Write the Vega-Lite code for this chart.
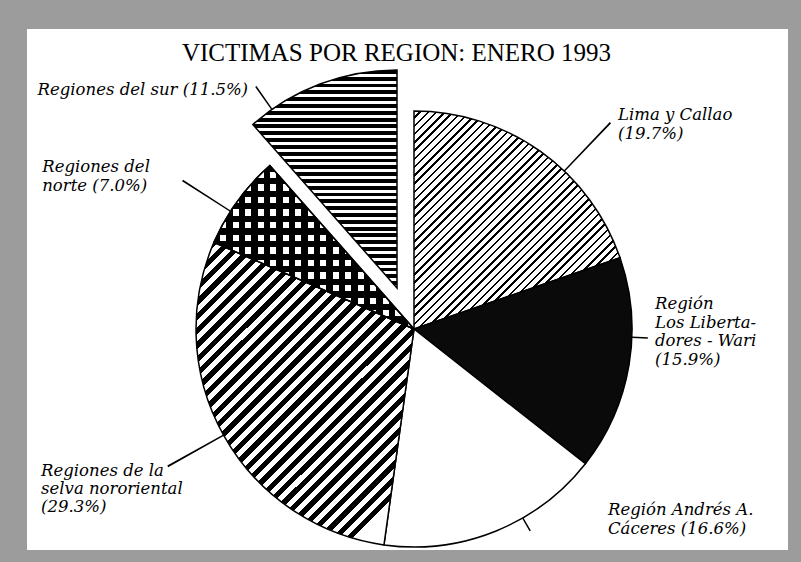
{
"$schema":"https://vega.github.io/schema/vega-lite/v6.json",
"width":801,"height":562,
"autosize":{"type":"fit","contains":"padding"},
"padding":{"left":27,"top":29,"right":13,"bottom":12},
"background":"#9c9c9c",
"view":{"fill":"white","stroke":null},
"config":{"view":{"fill":"white","stroke":null}},
"title":{"text":"VICTIMAS POR REGION: ENERO 1993","font":"Liberation Serif","fontSize":25,"fontWeight":"normal","color":"black","anchor":"middle","frame":"group","offset":-37,"dx":-11},
"data":{"values":[
{"region":"Lima y Callao","label":"Lima y Callao\n(19.7%)","pct":19.7,"order":1},
{"region":"Región Los Libertadores - Wari","label":"Región\nLos Liberta-\ndores - Wari\n(15.9%)","pct":15.9,"order":2},
{"region":"Región Andrés A. Cáceres","label":"Región Andrés A.\nCáceres (16.6%)","pct":16.6,"order":3},
{"region":"Regiones de la selva nororiental","label":"Regiones de la\nselva nororiental\n(29.3%)","pct":29.3,"order":4},
{"region":"Regiones del norte","label":"Regiones del\nnorte (7.0%)","pct":7.0,"order":5},
{"region":"Regiones del sur","label":"Regiones del sur (11.5%)","pct":11.5,"order":6}
]},
"transform":[
{"stack":"pct","groupby":[],"sort":[{"field":"order","order":"ascending"}],"as":["p0","p1"]},
{"calculate":"(datum.p0+datum.p1)/2","as":"mid"}
],
"layer":[
{"transform":[{"filter":"datum.order==1"}],
"mark":{"type":"arc","outerRadius":218,"innerRadius":0,"xOffset":6.5,"yOffset":39.5,"stroke":"black","strokeWidth":1.5,
"fill":{"gradient":"linear","x1":0,"y1":0,"x2":0.945,"y2":1,"stops":[
{"offset":0,"color":"#fff"},{"offset":0.014,"color":"#fff"},{"offset":0.014,"color":"#000"},{"offset":0.02,"color":"#000"},
{"offset":0.02,"color":"#fff"},{"offset":0.034,"color":"#fff"},{"offset":0.034,"color":"#000"},{"offset":0.04,"color":"#000"},
{"offset":0.04,"color":"#fff"},{"offset":0.054,"color":"#fff"},{"offset":0.054,"color":"#000"},{"offset":0.06,"color":"#000"},
{"offset":0.06,"color":"#fff"},{"offset":0.074,"color":"#fff"},{"offset":0.074,"color":"#000"},{"offset":0.08,"color":"#000"},
{"offset":0.08,"color":"#fff"},{"offset":0.094,"color":"#fff"},{"offset":0.094,"color":"#000"},{"offset":0.1,"color":"#000"},
{"offset":0.1,"color":"#fff"},{"offset":0.114,"color":"#fff"},{"offset":0.114,"color":"#000"},{"offset":0.12,"color":"#000"},
{"offset":0.12,"color":"#fff"},{"offset":0.134,"color":"#fff"},{"offset":0.134,"color":"#000"},{"offset":0.14,"color":"#000"},
{"offset":0.14,"color":"#fff"},{"offset":0.154,"color":"#fff"},{"offset":0.154,"color":"#000"},{"offset":0.16,"color":"#000"},
{"offset":0.16,"color":"#fff"},{"offset":0.174,"color":"#fff"},{"offset":0.174,"color":"#000"},{"offset":0.18,"color":"#000"},
{"offset":0.18,"color":"#fff"},{"offset":0.194,"color":"#fff"},{"offset":0.194,"color":"#000"},{"offset":0.2,"color":"#000"},
{"offset":0.2,"color":"#fff"},{"offset":0.214,"color":"#fff"},{"offset":0.214,"color":"#000"},{"offset":0.22,"color":"#000"},
{"offset":0.22,"color":"#fff"},{"offset":0.234,"color":"#fff"},{"offset":0.234,"color":"#000"},{"offset":0.24,"color":"#000"},
{"offset":0.24,"color":"#fff"},{"offset":0.254,"color":"#fff"},{"offset":0.254,"color":"#000"},{"offset":0.26,"color":"#000"},
{"offset":0.26,"color":"#fff"},{"offset":0.274,"color":"#fff"},{"offset":0.274,"color":"#000"},{"offset":0.28,"color":"#000"},
{"offset":0.28,"color":"#fff"},{"offset":0.294,"color":"#fff"},{"offset":0.294,"color":"#000"},{"offset":0.3,"color":"#000"},
{"offset":0.3,"color":"#fff"},{"offset":0.314,"color":"#fff"},{"offset":0.314,"color":"#000"},{"offset":0.32,"color":"#000"},
{"offset":0.32,"color":"#fff"},{"offset":0.334,"color":"#fff"},{"offset":0.334,"color":"#000"},{"offset":0.34,"color":"#000"},
{"offset":0.34,"color":"#fff"},{"offset":0.354,"color":"#fff"},{"offset":0.354,"color":"#000"},{"offset":0.36,"color":"#000"},
{"offset":0.36,"color":"#fff"},{"offset":0.374,"color":"#fff"},{"offset":0.374,"color":"#000"},{"offset":0.38,"color":"#000"},
{"offset":0.38,"color":"#fff"},{"offset":0.394,"color":"#fff"},{"offset":0.394,"color":"#000"},{"offset":0.4,"color":"#000"},
{"offset":0.4,"color":"#fff"},{"offset":0.414,"color":"#fff"},{"offset":0.414,"color":"#000"},{"offset":0.42,"color":"#000"},
{"offset":0.42,"color":"#fff"},{"offset":0.434,"color":"#fff"},{"offset":0.434,"color":"#000"},{"offset":0.44,"color":"#000"},
{"offset":0.44,"color":"#fff"},{"offset":0.454,"color":"#fff"},{"offset":0.454,"color":"#000"},{"offset":0.46,"color":"#000"},
{"offset":0.46,"color":"#fff"},{"offset":0.474,"color":"#fff"},{"offset":0.474,"color":"#000"},{"offset":0.48,"color":"#000"},
{"offset":0.48,"color":"#fff"},{"offset":0.494,"color":"#fff"},{"offset":0.494,"color":"#000"},{"offset":0.5,"color":"#000"},
{"offset":0.5,"color":"#fff"},{"offset":0.514,"color":"#fff"},{"offset":0.514,"color":"#000"},{"offset":0.52,"color":"#000"},
{"offset":0.52,"color":"#fff"},{"offset":0.534,"color":"#fff"},{"offset":0.534,"color":"#000"},{"offset":0.54,"color":"#000"},
{"offset":0.54,"color":"#fff"},{"offset":0.554,"color":"#fff"},{"offset":0.554,"color":"#000"},{"offset":0.56,"color":"#000"},
{"offset":0.56,"color":"#fff"},{"offset":0.574,"color":"#fff"},{"offset":0.574,"color":"#000"},{"offset":0.58,"color":"#000"},
{"offset":0.58,"color":"#fff"},{"offset":0.594,"color":"#fff"},{"offset":0.594,"color":"#000"},{"offset":0.6,"color":"#000"},
{"offset":0.6,"color":"#fff"},{"offset":0.614,"color":"#fff"},{"offset":0.614,"color":"#000"},{"offset":0.62,"color":"#000"},
{"offset":0.62,"color":"#fff"},{"offset":0.634,"color":"#fff"},{"offset":0.634,"color":"#000"},{"offset":0.64,"color":"#000"},
{"offset":0.64,"color":"#fff"},{"offset":0.654,"color":"#fff"},{"offset":0.654,"color":"#000"},{"offset":0.66,"color":"#000"},
{"offset":0.66,"color":"#fff"},{"offset":0.674,"color":"#fff"},{"offset":0.674,"color":"#000"},{"offset":0.68,"color":"#000"},
{"offset":0.68,"color":"#fff"},{"offset":0.694,"color":"#fff"},{"offset":0.694,"color":"#000"},{"offset":0.7,"color":"#000"},
{"offset":0.7,"color":"#fff"},{"offset":0.714,"color":"#fff"},{"offset":0.714,"color":"#000"},{"offset":0.72,"color":"#000"},
{"offset":0.72,"color":"#fff"},{"offset":0.734,"color":"#fff"},{"offset":0.734,"color":"#000"},{"offset":0.74,"color":"#000"},
{"offset":0.74,"color":"#fff"},{"offset":0.754,"color":"#fff"},{"offset":0.754,"color":"#000"},{"offset":0.76,"color":"#000"},
{"offset":0.76,"color":"#fff"},{"offset":0.774,"color":"#fff"},{"offset":0.774,"color":"#000"},{"offset":0.78,"color":"#000"},
{"offset":0.78,"color":"#fff"},{"offset":0.794,"color":"#fff"},{"offset":0.794,"color":"#000"},{"offset":0.8,"color":"#000"},
{"offset":0.8,"color":"#fff"},{"offset":0.814,"color":"#fff"},{"offset":0.814,"color":"#000"},{"offset":0.82,"color":"#000"},
{"offset":0.82,"color":"#fff"},{"offset":0.834,"color":"#fff"},{"offset":0.834,"color":"#000"},{"offset":0.84,"color":"#000"},
{"offset":0.84,"color":"#fff"},{"offset":0.854,"color":"#fff"},{"offset":0.854,"color":"#000"},{"offset":0.86,"color":"#000"},
{"offset":0.86,"color":"#fff"},{"offset":0.874,"color":"#fff"},{"offset":0.874,"color":"#000"},{"offset":0.88,"color":"#000"},
{"offset":0.88,"color":"#fff"},{"offset":0.894,"color":"#fff"},{"offset":0.894,"color":"#000"},{"offset":0.9,"color":"#000"},
{"offset":0.9,"color":"#fff"},{"offset":0.914,"color":"#fff"},{"offset":0.914,"color":"#000"},{"offset":0.92,"color":"#000"},
{"offset":0.92,"color":"#fff"},{"offset":0.934,"color":"#fff"},{"offset":0.934,"color":"#000"},{"offset":0.94,"color":"#000"},
{"offset":0.94,"color":"#fff"},{"offset":0.954,"color":"#fff"},{"offset":0.954,"color":"#000"},{"offset":0.96,"color":"#000"},
{"offset":0.96,"color":"#fff"},{"offset":0.974,"color":"#fff"},{"offset":0.974,"color":"#000"},{"offset":0.98,"color":"#000"},
{"offset":0.98,"color":"#fff"},{"offset":0.994,"color":"#fff"},{"offset":0.994,"color":"#000"},{"offset":1,"color":"#000"}
]}},
"encoding":{"theta":{"field":"p0","type":"quantitative","scale":{"domain":[0,100]}},"theta2":{"field":"p1"}}},
{"transform":[{"filter":"datum.order==2"}],
"mark":{"type":"arc","outerRadius":218,"innerRadius":0,"xOffset":6.5,"yOffset":39.5,"stroke":"black","strokeWidth":1.5,"fill":"#0a0a0a"},
"encoding":{"theta":{"field":"p0","type":"quantitative","scale":{"domain":[0,100]}},"theta2":{"field":"p1"}}},
{"transform":[{"filter":"datum.order==3"}],
"mark":{"type":"arc","outerRadius":218,"innerRadius":0,"xOffset":6.5,"yOffset":39.5,"stroke":"black","strokeWidth":1.5,"fill":"#ffffff"},
"encoding":{"theta":{"field":"p0","type":"quantitative","scale":{"domain":[0,100]}},"theta2":{"field":"p1"}}},
{"transform":[{"filter":"datum.order==4"}],
"mark":{"type":"arc","outerRadius":218,"innerRadius":0,"xOffset":6.5,"yOffset":39.5,"stroke":"black","strokeWidth":1.5,
"fill":{"gradient":"linear","x1":0,"y1":0,"x2":0.72,"y2":1,"stops":[
{"offset":0,"color":"#000"},{"offset":0.016,"color":"#000"},{"offset":0.016,"color":"#fff"},{"offset":0.03125,"color":"#fff"},
{"offset":0.03125,"color":"#000"},{"offset":0.04725,"color":"#000"},{"offset":0.04725,"color":"#fff"},{"offset":0.0625,"color":"#fff"},
{"offset":0.0625,"color":"#000"},{"offset":0.0785,"color":"#000"},{"offset":0.0785,"color":"#fff"},{"offset":0.09375,"color":"#fff"},
{"offset":0.09375,"color":"#000"},{"offset":0.10975,"color":"#000"},{"offset":0.10975,"color":"#fff"},{"offset":0.125,"color":"#fff"},
{"offset":0.125,"color":"#000"},{"offset":0.141,"color":"#000"},{"offset":0.141,"color":"#fff"},{"offset":0.15625,"color":"#fff"},
{"offset":0.15625,"color":"#000"},{"offset":0.17225,"color":"#000"},{"offset":0.17225,"color":"#fff"},{"offset":0.1875,"color":"#fff"},
{"offset":0.1875,"color":"#000"},{"offset":0.2035,"color":"#000"},{"offset":0.2035,"color":"#fff"},{"offset":0.21875,"color":"#fff"},
{"offset":0.21875,"color":"#000"},{"offset":0.23475,"color":"#000"},{"offset":0.23475,"color":"#fff"},{"offset":0.25,"color":"#fff"},
{"offset":0.25,"color":"#000"},{"offset":0.266,"color":"#000"},{"offset":0.266,"color":"#fff"},{"offset":0.28125,"color":"#fff"},
{"offset":0.28125,"color":"#000"},{"offset":0.29725,"color":"#000"},{"offset":0.29725,"color":"#fff"},{"offset":0.3125,"color":"#fff"},
{"offset":0.3125,"color":"#000"},{"offset":0.3285,"color":"#000"},{"offset":0.3285,"color":"#fff"},{"offset":0.34375,"color":"#fff"},
{"offset":0.34375,"color":"#000"},{"offset":0.35975,"color":"#000"},{"offset":0.35975,"color":"#fff"},{"offset":0.375,"color":"#fff"},
{"offset":0.375,"color":"#000"},{"offset":0.391,"color":"#000"},{"offset":0.391,"color":"#fff"},{"offset":0.40625,"color":"#fff"},
{"offset":0.40625,"color":"#000"},{"offset":0.42225,"color":"#000"},{"offset":0.42225,"color":"#fff"},{"offset":0.4375,"color":"#fff"},
{"offset":0.4375,"color":"#000"},{"offset":0.4535,"color":"#000"},{"offset":0.4535,"color":"#fff"},{"offset":0.46875,"color":"#fff"},
{"offset":0.46875,"color":"#000"},{"offset":0.48475,"color":"#000"},{"offset":0.48475,"color":"#fff"},{"offset":0.5,"color":"#fff"},
{"offset":0.5,"color":"#000"},{"offset":0.516,"color":"#000"},{"offset":0.516,"color":"#fff"},{"offset":0.53125,"color":"#fff"},
{"offset":0.53125,"color":"#000"},{"offset":0.54725,"color":"#000"},{"offset":0.54725,"color":"#fff"},{"offset":0.5625,"color":"#fff"},
{"offset":0.5625,"color":"#000"},{"offset":0.5785,"color":"#000"},{"offset":0.5785,"color":"#fff"},{"offset":0.59375,"color":"#fff"},
{"offset":0.59375,"color":"#000"},{"offset":0.60975,"color":"#000"},{"offset":0.60975,"color":"#fff"},{"offset":0.625,"color":"#fff"},
{"offset":0.625,"color":"#000"},{"offset":0.641,"color":"#000"},{"offset":0.641,"color":"#fff"},{"offset":0.65625,"color":"#fff"},
{"offset":0.65625,"color":"#000"},{"offset":0.67225,"color":"#000"},{"offset":0.67225,"color":"#fff"},{"offset":0.6875,"color":"#fff"},
{"offset":0.6875,"color":"#000"},{"offset":0.7035,"color":"#000"},{"offset":0.7035,"color":"#fff"},{"offset":0.71875,"color":"#fff"},
{"offset":0.71875,"color":"#000"},{"offset":0.73475,"color":"#000"},{"offset":0.73475,"color":"#fff"},{"offset":0.75,"color":"#fff"},
{"offset":0.75,"color":"#000"},{"offset":0.766,"color":"#000"},{"offset":0.766,"color":"#fff"},{"offset":0.78125,"color":"#fff"},
{"offset":0.78125,"color":"#000"},{"offset":0.79725,"color":"#000"},{"offset":0.79725,"color":"#fff"},{"offset":0.8125,"color":"#fff"},
{"offset":0.8125,"color":"#000"},{"offset":0.8285,"color":"#000"},{"offset":0.8285,"color":"#fff"},{"offset":0.84375,"color":"#fff"},
{"offset":0.84375,"color":"#000"},{"offset":0.85975,"color":"#000"},{"offset":0.85975,"color":"#fff"},{"offset":0.875,"color":"#fff"},
{"offset":0.875,"color":"#000"},{"offset":0.891,"color":"#000"},{"offset":0.891,"color":"#fff"},{"offset":0.90625,"color":"#fff"},
{"offset":0.90625,"color":"#000"},{"offset":0.92225,"color":"#000"},{"offset":0.92225,"color":"#fff"},{"offset":0.9375,"color":"#fff"},
{"offset":0.9375,"color":"#000"},{"offset":0.9535,"color":"#000"},{"offset":0.9535,"color":"#fff"},{"offset":0.96875,"color":"#fff"},
{"offset":0.96875,"color":"#000"},{"offset":0.98475,"color":"#000"},{"offset":0.98475,"color":"#fff"},{"offset":1,"color":"#fff"}
]}},
"encoding":{"theta":{"field":"p0","type":"quantitative","scale":{"domain":[0,100]}},"theta2":{"field":"p1"}}},
{"transform":[{"filter":"datum.order==5"}],
"mark":{"type":"arc","outerRadius":218,"innerRadius":0,"xOffset":6.5,"yOffset":39.5,"stroke":"black","strokeWidth":1.5,
"fill":{"gradient":"linear","x1":0,"y1":0,"x2":0,"y2":1,"stops":[
{"offset":0,"color":"#000"},{"offset":0.0385,"color":"#000"},{"offset":0.0385,"color":"#fff"},{"offset":0.0769,"color":"#fff"},
{"offset":0.0769,"color":"#000"},{"offset":0.1154,"color":"#000"},{"offset":0.1154,"color":"#fff"},{"offset":0.1538,"color":"#fff"},
{"offset":0.1538,"color":"#000"},{"offset":0.1923,"color":"#000"},{"offset":0.1923,"color":"#fff"},{"offset":0.2308,"color":"#fff"},
{"offset":0.2308,"color":"#000"},{"offset":0.2692,"color":"#000"},{"offset":0.2692,"color":"#fff"},{"offset":0.3077,"color":"#fff"},
{"offset":0.3077,"color":"#000"},{"offset":0.3462,"color":"#000"},{"offset":0.3462,"color":"#fff"},{"offset":0.3846,"color":"#fff"},
{"offset":0.3846,"color":"#000"},{"offset":0.4231,"color":"#000"},{"offset":0.4231,"color":"#fff"},{"offset":0.4615,"color":"#fff"},
{"offset":0.4615,"color":"#000"},{"offset":0.5,"color":"#000"},{"offset":0.5,"color":"#fff"},{"offset":0.5385,"color":"#fff"},
{"offset":0.5385,"color":"#000"},{"offset":0.5769,"color":"#000"},{"offset":0.5769,"color":"#fff"},{"offset":0.6154,"color":"#fff"},
{"offset":0.6154,"color":"#000"},{"offset":0.6538,"color":"#000"},{"offset":0.6538,"color":"#fff"},{"offset":0.6923,"color":"#fff"},
{"offset":0.6923,"color":"#000"},{"offset":0.7308,"color":"#000"},{"offset":0.7308,"color":"#fff"},{"offset":0.7692,"color":"#fff"},
{"offset":0.7692,"color":"#000"},{"offset":0.8077,"color":"#000"},{"offset":0.8077,"color":"#fff"},{"offset":0.8462,"color":"#fff"},
{"offset":0.8462,"color":"#000"},{"offset":0.8846,"color":"#000"},{"offset":0.8846,"color":"#fff"},{"offset":0.9231,"color":"#fff"},
{"offset":0.9231,"color":"#000"},{"offset":0.9615,"color":"#000"},{"offset":0.9615,"color":"#fff"},{"offset":1,"color":"#fff"}
]}},
"encoding":{"theta":{"field":"p0","type":"quantitative","scale":{"domain":[0,100]}},"theta2":{"field":"p1"}}},
{"transform":[{"filter":"datum.order==5"}],
"mark":{"type":"arc","outerRadius":218,"innerRadius":0,"xOffset":6.5,"yOffset":39.5,"stroke":"black","strokeWidth":1.5,
"fill":{"gradient":"linear","x1":0,"y1":0,"x2":1,"y2":0,"stops":[
{"offset":0,"color":"#000"},{"offset":0.03125,"color":"#000"},{"offset":0.03125,"color":"rgba(0,0,0,0)"},{"offset":0.0625,"color":"rgba(0,0,0,0)"},
{"offset":0.0625,"color":"#000"},{"offset":0.09375,"color":"#000"},{"offset":0.09375,"color":"rgba(0,0,0,0)"},{"offset":0.125,"color":"rgba(0,0,0,0)"},
{"offset":0.125,"color":"#000"},{"offset":0.15625,"color":"#000"},{"offset":0.15625,"color":"rgba(0,0,0,0)"},{"offset":0.1875,"color":"rgba(0,0,0,0)"},
{"offset":0.1875,"color":"#000"},{"offset":0.21875,"color":"#000"},{"offset":0.21875,"color":"rgba(0,0,0,0)"},{"offset":0.25,"color":"rgba(0,0,0,0)"},
{"offset":0.25,"color":"#000"},{"offset":0.28125,"color":"#000"},{"offset":0.28125,"color":"rgba(0,0,0,0)"},{"offset":0.3125,"color":"rgba(0,0,0,0)"},
{"offset":0.3125,"color":"#000"},{"offset":0.34375,"color":"#000"},{"offset":0.34375,"color":"rgba(0,0,0,0)"},{"offset":0.375,"color":"rgba(0,0,0,0)"},
{"offset":0.375,"color":"#000"},{"offset":0.40625,"color":"#000"},{"offset":0.40625,"color":"rgba(0,0,0,0)"},{"offset":0.4375,"color":"rgba(0,0,0,0)"},
{"offset":0.4375,"color":"#000"},{"offset":0.46875,"color":"#000"},{"offset":0.46875,"color":"rgba(0,0,0,0)"},{"offset":0.5,"color":"rgba(0,0,0,0)"},
{"offset":0.5,"color":"#000"},{"offset":0.53125,"color":"#000"},{"offset":0.53125,"color":"rgba(0,0,0,0)"},{"offset":0.5625,"color":"rgba(0,0,0,0)"},
{"offset":0.5625,"color":"#000"},{"offset":0.59375,"color":"#000"},{"offset":0.59375,"color":"rgba(0,0,0,0)"},{"offset":0.625,"color":"rgba(0,0,0,0)"},
{"offset":0.625,"color":"#000"},{"offset":0.65625,"color":"#000"},{"offset":0.65625,"color":"rgba(0,0,0,0)"},{"offset":0.6875,"color":"rgba(0,0,0,0)"},
{"offset":0.6875,"color":"#000"},{"offset":0.71875,"color":"#000"},{"offset":0.71875,"color":"rgba(0,0,0,0)"},{"offset":0.75,"color":"rgba(0,0,0,0)"},
{"offset":0.75,"color":"#000"},{"offset":0.78125,"color":"#000"},{"offset":0.78125,"color":"rgba(0,0,0,0)"},{"offset":0.8125,"color":"rgba(0,0,0,0)"},
{"offset":0.8125,"color":"#000"},{"offset":0.84375,"color":"#000"},{"offset":0.84375,"color":"rgba(0,0,0,0)"},{"offset":0.875,"color":"rgba(0,0,0,0)"},
{"offset":0.875,"color":"#000"},{"offset":0.90625,"color":"#000"},{"offset":0.90625,"color":"rgba(0,0,0,0)"},{"offset":0.9375,"color":"rgba(0,0,0,0)"},
{"offset":0.9375,"color":"#000"},{"offset":0.96875,"color":"#000"},{"offset":0.96875,"color":"rgba(0,0,0,0)"},{"offset":1,"color":"rgba(0,0,0,0)"}
]}},
"encoding":{"theta":{"field":"p0","type":"quantitative","scale":{"domain":[0,100]}},"theta2":{"field":"p1"}}},
{"transform":[{"filter":"datum.order==6"}],
"mark":{"type":"arc","outerRadius":218,"innerRadius":0,"xOffset":-10.5,"yOffset":-1.5,"stroke":"black","strokeWidth":1.5,
"fill":{"gradient":"linear","x1":0,"y1":0,"x2":0,"y2":1,"stops":[
{"offset":0,"color":"#000"},{"offset":0.0175,"color":"#000"},{"offset":0.0175,"color":"#fff"},{"offset":0.03125,"color":"#fff"},
{"offset":0.03125,"color":"#000"},{"offset":0.04875,"color":"#000"},{"offset":0.04875,"color":"#fff"},{"offset":0.0625,"color":"#fff"},
{"offset":0.0625,"color":"#000"},{"offset":0.08,"color":"#000"},{"offset":0.08,"color":"#fff"},{"offset":0.09375,"color":"#fff"},
{"offset":0.09375,"color":"#000"},{"offset":0.11125,"color":"#000"},{"offset":0.11125,"color":"#fff"},{"offset":0.125,"color":"#fff"},
{"offset":0.125,"color":"#000"},{"offset":0.1425,"color":"#000"},{"offset":0.1425,"color":"#fff"},{"offset":0.15625,"color":"#fff"},
{"offset":0.15625,"color":"#000"},{"offset":0.17375,"color":"#000"},{"offset":0.17375,"color":"#fff"},{"offset":0.1875,"color":"#fff"},
{"offset":0.1875,"color":"#000"},{"offset":0.205,"color":"#000"},{"offset":0.205,"color":"#fff"},{"offset":0.21875,"color":"#fff"},
{"offset":0.21875,"color":"#000"},{"offset":0.23625,"color":"#000"},{"offset":0.23625,"color":"#fff"},{"offset":0.25,"color":"#fff"},
{"offset":0.25,"color":"#000"},{"offset":0.2675,"color":"#000"},{"offset":0.2675,"color":"#fff"},{"offset":0.28125,"color":"#fff"},
{"offset":0.28125,"color":"#000"},{"offset":0.29875,"color":"#000"},{"offset":0.29875,"color":"#fff"},{"offset":0.3125,"color":"#fff"},
{"offset":0.3125,"color":"#000"},{"offset":0.33,"color":"#000"},{"offset":0.33,"color":"#fff"},{"offset":0.34375,"color":"#fff"},
{"offset":0.34375,"color":"#000"},{"offset":0.36125,"color":"#000"},{"offset":0.36125,"color":"#fff"},{"offset":0.375,"color":"#fff"},
{"offset":0.375,"color":"#000"},{"offset":0.3925,"color":"#000"},{"offset":0.3925,"color":"#fff"},{"offset":0.40625,"color":"#fff"},
{"offset":0.40625,"color":"#000"},{"offset":0.42375,"color":"#000"},{"offset":0.42375,"color":"#fff"},{"offset":0.4375,"color":"#fff"},
{"offset":0.4375,"color":"#000"},{"offset":0.455,"color":"#000"},{"offset":0.455,"color":"#fff"},{"offset":0.46875,"color":"#fff"},
{"offset":0.46875,"color":"#000"},{"offset":0.48625,"color":"#000"},{"offset":0.48625,"color":"#fff"},{"offset":0.5,"color":"#fff"},
{"offset":0.5,"color":"#000"},{"offset":0.5175,"color":"#000"},{"offset":0.5175,"color":"#fff"},{"offset":0.53125,"color":"#fff"},
{"offset":0.53125,"color":"#000"},{"offset":0.54875,"color":"#000"},{"offset":0.54875,"color":"#fff"},{"offset":0.5625,"color":"#fff"},
{"offset":0.5625,"color":"#000"},{"offset":0.58,"color":"#000"},{"offset":0.58,"color":"#fff"},{"offset":0.59375,"color":"#fff"},
{"offset":0.59375,"color":"#000"},{"offset":0.61125,"color":"#000"},{"offset":0.61125,"color":"#fff"},{"offset":0.625,"color":"#fff"},
{"offset":0.625,"color":"#000"},{"offset":0.6425,"color":"#000"},{"offset":0.6425,"color":"#fff"},{"offset":0.65625,"color":"#fff"},
{"offset":0.65625,"color":"#000"},{"offset":0.67375,"color":"#000"},{"offset":0.67375,"color":"#fff"},{"offset":0.6875,"color":"#fff"},
{"offset":0.6875,"color":"#000"},{"offset":0.705,"color":"#000"},{"offset":0.705,"color":"#fff"},{"offset":0.71875,"color":"#fff"},
{"offset":0.71875,"color":"#000"},{"offset":0.73625,"color":"#000"},{"offset":0.73625,"color":"#fff"},{"offset":0.75,"color":"#fff"},
{"offset":0.75,"color":"#000"},{"offset":0.7675,"color":"#000"},{"offset":0.7675,"color":"#fff"},{"offset":0.78125,"color":"#fff"},
{"offset":0.78125,"color":"#000"},{"offset":0.79875,"color":"#000"},{"offset":0.79875,"color":"#fff"},{"offset":0.8125,"color":"#fff"},
{"offset":0.8125,"color":"#000"},{"offset":0.83,"color":"#000"},{"offset":0.83,"color":"#fff"},{"offset":0.84375,"color":"#fff"},
{"offset":0.84375,"color":"#000"},{"offset":0.86125,"color":"#000"},{"offset":0.86125,"color":"#fff"},{"offset":0.875,"color":"#fff"},
{"offset":0.875,"color":"#000"},{"offset":0.8925,"color":"#000"},{"offset":0.8925,"color":"#fff"},{"offset":0.90625,"color":"#fff"},
{"offset":0.90625,"color":"#000"},{"offset":0.92375,"color":"#000"},{"offset":0.92375,"color":"#fff"},{"offset":0.9375,"color":"#fff"},
{"offset":0.9375,"color":"#000"},{"offset":0.955,"color":"#000"},{"offset":0.955,"color":"#fff"},{"offset":0.96875,"color":"#fff"},
{"offset":0.96875,"color":"#000"},{"offset":0.98625,"color":"#000"},{"offset":0.98625,"color":"#fff"},{"offset":1,"color":"#fff"}
]}},
"encoding":{"theta":{"field":"p0","type":"quantitative","scale":{"domain":[0,100]}},"theta2":{"field":"p1"}}},
{"transform":[{"filter":"datum.order==1"}],
"mark":{"type":"arc","innerRadius":218,"outerRadius":285,"thetaOffset":0.1386,"theta2Offset":0.1451,"fill":"black","xOffset":6.5,"yOffset":39.5},
"encoding":{"theta":{"field":"mid","type":"quantitative","scale":{"domain":[0,100]}},"theta2":{"field":"mid"}}},
{"transform":[{"filter":"datum.order==2"}],
"mark":{"type":"arc","innerRadius":218,"outerRadius":234,"thetaOffset":-0.1316,"theta2Offset":-0.1251,"fill":"black","xOffset":6.5,"yOffset":39.5},
"encoding":{"theta":{"field":"mid","type":"quantitative","scale":{"domain":[0,100]}},"theta2":{"field":"mid"}}},
{"transform":[{"filter":"datum.order==3"}],
"mark":{"type":"arc","innerRadius":218,"outerRadius":233,"thetaOffset":-0.142,"theta2Offset":-0.1355,"fill":"black","xOffset":6.5,"yOffset":39.5},
"encoding":{"theta":{"field":"mid","type":"quantitative","scale":{"domain":[0,100]}},"theta2":{"field":"mid"}}},
{"transform":[{"filter":"datum.order==4"}],
"mark":{"type":"arc","innerRadius":218,"outerRadius":282,"thetaOffset":0,"theta2Offset":0.0065,"fill":"black","xOffset":6.5,"yOffset":39.5},
"encoding":{"theta":{"field":"mid","type":"quantitative","scale":{"domain":[0,100]}},"theta2":{"field":"mid"}}},
{"transform":[{"filter":"datum.order==5"}],
"mark":{"type":"arc","innerRadius":218,"outerRadius":275,"thetaOffset":-0.0611,"theta2Offset":-0.0546,"fill":"black","xOffset":6.5,"yOffset":39.5},
"encoding":{"theta":{"field":"mid","type":"quantitative","scale":{"domain":[0,100]}},"theta2":{"field":"mid"}}},
{"transform":[{"filter":"datum.order==6"}],
"mark":{"type":"arc","innerRadius":218,"outerRadius":246,"thetaOffset":-0.253,"theta2Offset":-0.2465,"fill":"black","xOffset":-10.5,"yOffset":-1.5},
"encoding":{"theta":{"field":"mid","type":"quantitative","scale":{"domain":[0,100]}},"theta2":{"field":"mid"}}},
{"transform":[{"filter":"datum.order==1"}],
"mark":{"type":"text","radius":250,"align":"left","baseline":"top","dx":65.5,"dy":21,"font":"DejaVu Serif","fontStyle":"italic","fontSize":16.5,"lineHeight":19,"lineBreak":"\n","color":"black"},
"encoding":{"theta":{"field":"mid","type":"quantitative","scale":{"domain":[0,100]},"stack":null},"text":{"field":"label"}}},
{"transform":[{"filter":"datum.order==2"}],
"mark":{"type":"text","radius":250,"align":"left","baseline":"top","dx":1,"dy":-34.5,"font":"DejaVu Serif","fontStyle":"italic","fontSize":16.5,"lineHeight":18.5,"lineBreak":"\n","color":"black"},
"encoding":{"theta":{"field":"mid","type":"quantitative","scale":{"domain":[0,100]},"stack":null},"text":{"field":"label"}}},
{"transform":[{"filter":"datum.order==3"}],
"mark":{"type":"text","radius":250,"align":"left","baseline":"top","dx":107,"dy":-19,"font":"DejaVu Serif","fontStyle":"italic","fontSize":16.5,"lineHeight":18.5,"lineBreak":"\n","color":"black"},
"encoding":{"theta":{"field":"mid","type":"quantitative","scale":{"domain":[0,100]},"stack":null},"text":{"field":"label"}}},
{"transform":[{"filter":"datum.order==4"}],
"mark":{"type":"text","radius":250,"align":"left","baseline":"top","dx":-148.5,"dy":51.5,"font":"DejaVu Serif","fontStyle":"italic","fontSize":16.5,"lineHeight":18,"lineBreak":"\n","color":"black"},
"encoding":{"theta":{"field":"mid","type":"quantitative","scale":{"domain":[0,100]},"stack":null},"text":{"field":"label"}}},
{"transform":[{"filter":"datum.order==5"}],
"mark":{"type":"text","radius":250,"align":"left","baseline":"top","dx":-163,"dy":16,"font":"DejaVu Serif","fontStyle":"italic","fontSize":16.5,"lineHeight":19,"lineBreak":"\n","color":"black"},
"encoding":{"theta":{"field":"mid","type":"quantitative","scale":{"domain":[0,100]},"stack":null},"text":{"field":"label"}}},
{"transform":[{"filter":"datum.order==6"}],
"mark":{"type":"text","radius":250,"align":"right","baseline":"top","dx":-71.1,"dy":26,"font":"DejaVu Serif","fontStyle":"italic","fontSize":16.5,"lineHeight":18,"lineBreak":"\n","color":"black"},
"encoding":{"theta":{"field":"mid","type":"quantitative","scale":{"domain":[0,100]},"stack":null},"text":{"field":"label"}}}
]
}
